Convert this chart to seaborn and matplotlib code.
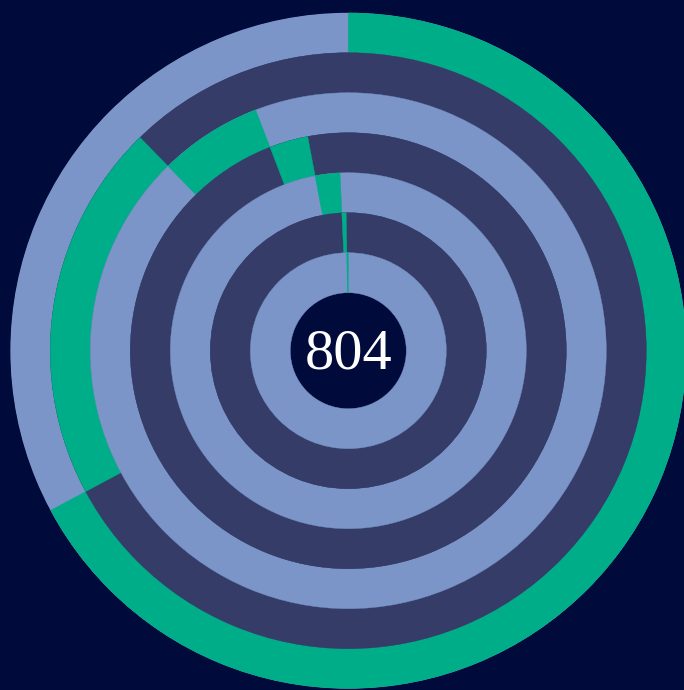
import numpy as np
import pandas as pd
import matplotlib
matplotlib.use("Agg")
import matplotlib.pyplot as plt
import seaborn as sns

# ---- data ----
stages = ["Stage 1", "Stage 2", "Stage 3", "Stage 4", "Stage 5", "Stage 6", "Stage 7"]
counts = [540, 165, 52, 23, 18, 4, 2]
total_label = "804"

# ---- colours ----
navy = "#000a3b"
light = "#7b95c8"
dark = "#343c67"
green = "#00ad89"

sns.set_theme(style="white", rc={"axes.facecolor": navy, "figure.facecolor": navy})
ring_palette = sns.color_palette([light, dark])

df = pd.DataFrame({"stage": stages, "count": counts})
total = df["count"].sum()
df["frac"] = df["count"] / total
df["start"] = df["frac"].cumsum() - df["frac"]

W, H = 684, 690
cx, cy = 348.3, 350.7
R = 338.0
ring_w = 40.0

fig = plt.figure(figsize=(W / 100, H / 100), dpi=100)
fig.patch.set_facecolor(navy)
ax = fig.add_axes([(cx - R) / W, (H - cy - R) / H, 2 * R / W, 2 * R / H], projection="polar")
ax.set_theta_zero_location("N")
ax.set_theta_direction(-1)
ax.set_ylim(0, R)

for i, row in df.iterrows():
    outer = R - i * ring_w
    inner = outer - ring_w
    base = ring_palette[i % 2]
    ax.bar(0, ring_w, width=2 * np.pi, bottom=inner, align="edge",
           color=base, edgecolor=base, linewidth=0.3)
    ax.bar(row["start"] * 2 * np.pi, ring_w, width=row["frac"] * 2 * np.pi,
           bottom=inner, align="edge", color=green, edgecolor=green, linewidth=0.3)

ax.set_axis_off()
ax.text(0.5, 0.5 - 4 / (2 * R), total_label, transform=ax.transAxes, ha="center", va="center",
        color="white", fontsize=42, family=["Liberation Serif", "DejaVu Serif"])

fig.savefig("out.png", dpi=100, facecolor=navy)
